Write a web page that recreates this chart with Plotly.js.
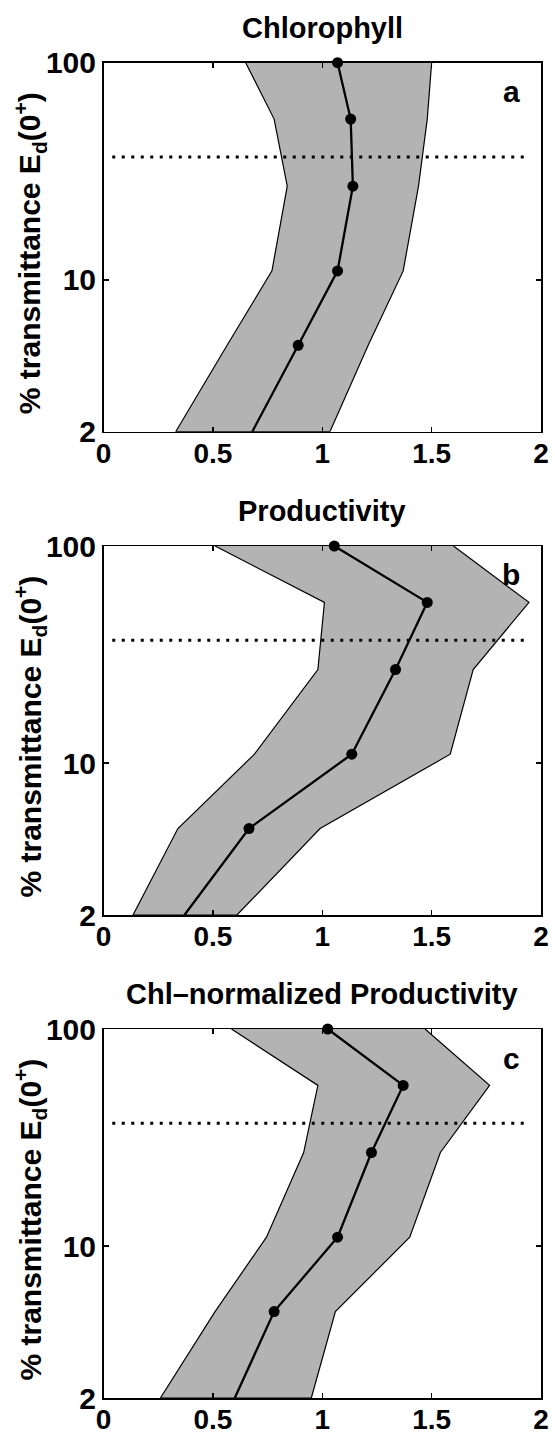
<!DOCTYPE html>
<html>
<head>
<meta charset="utf-8">
<script src="https://cdn.plot.ly/plotly-3.0.1.min.js"></script>
<style>html,body{margin:0;padding:0;background:#fff;}#chart{width:555px;height:1436px;}</style>
</head>
<body>
<div id="chart"></div>
<script>
// Light levels (% transmittance of surface irradiance)
const levels = [100, 55, 27, 11, 5, 2];
const refLevel = 36.8;          // 1/e light level (dotted line)
const refX = [0.04, 1.94];

// Panel a: Chlorophyll
const chlMean  = [1.07, 1.13, 1.14, 1.07, 0.89, 0.68];
const chlLow   = [0.65, 0.78, 0.84, 0.77, 0.565, 0.33];
const chlHigh  = [1.50, 1.48, 1.44, 1.37, 1.21, 1.035];

// Panel b: Productivity
const prodMean = [1.055, 1.48, 1.335, 1.135, 0.665, 0.37];
const prodLow  = [0.51, 1.01, 0.98, 0.69, 0.34, 0.135];
const prodHigh = [1.60, 1.945, 1.69, 1.585, 0.99, 0.61];

// Panel c: Chl-normalized Productivity
const normMean = [1.025, 1.37, 1.225, 1.07, 0.78, 0.60];
const normLow  = [0.585, 0.98, 0.915, 0.745, 0.51, 0.26];
const normHigh = [1.47, 1.765, 1.54, 1.40, 1.06, 0.95];

const titles = ['Chlorophyll', 'Productivity', 'Chl\u2013normalized Productivity'];
const letters = ['a', 'b', 'c'];
const yTitle = '% transmittance E<sub>d</sub>(0<sup>+</sup>)';
const xTicks = [0, 0.5, 1, 1.5, 2];
const xTickText = ['0', '0.5', '1', '1.5', '2'];
const yTicks = [2, 10, 100];
const yTickText = ['2', '10', '100'];

const panels = [
  {mean: chlMean, low: chlLow, high: chlHigh},
  {mean: prodMean, low: prodLow, high: prodHigh},
  {mean: normMean, low: normLow, high: normHigh}
];

const W = 555, H = 1436;
const plotLeft = 103.5, plotRight = 541;
const panelTops = [62.7, 546, 1029];
const panelH = 369;
const FONT = 'Liberation Sans, Arial, Helvetica, sans-serif';

const traces = [];
const layout = {
  width: W, height: H,
  margin: {l: 0, r: 0, t: 0, b: 0},
  paper_bgcolor: '#fff', plot_bgcolor: '#fff',
  showlegend: false,
  font: {family: FONT, color: '#000'},
  annotations: []
};

panels.forEach((p, i) => {
  const n = i + 1;
  const xa = n === 1 ? 'x' : 'x' + n;
  const ya = n === 1 ? 'y' : 'y' + n;
  traces.push({
    x: p.low.concat(p.high.slice().reverse()),
    y: levels.concat(levels.slice().reverse()),
    xaxis: xa, yaxis: ya,
    type: 'scatter', mode: 'lines', fill: 'toself',
    fillcolor: '#b3b3b3',
    line: {color: '#000', width: 1.2},
    hoverinfo: 'skip'
  });
  traces.push({
    x: refX, y: [refLevel, refLevel],
    xaxis: xa, yaxis: ya,
    type: 'scatter', mode: 'lines',
    line: {color: '#000', width: 3, dash: '3px,6.5px'},
    hoverinfo: 'skip'
  });
  traces.push({
    x: p.mean, y: levels,
    xaxis: xa, yaxis: ya,
    type: 'scatter', mode: 'lines+markers',
    line: {color: '#000', width: 2.3},
    marker: {color: '#000', size: 11},
    cliponaxis: false
  });

  const top = panelTops[i], bot = top + panelH;
  const axBase = {
    showline: true, linecolor: '#000', linewidth: 1.5, mirror: 'ticks',
    ticks: 'inside', ticklen: 5, tickwidth: 1.5, tickcolor: '#000',
    showgrid: false, zeroline: false, automargin: false,
    tickfont: {family: FONT, size: 30, weight: 'bold', color: '#000'}
  };
  layout['xaxis' + (n === 1 ? '' : n)] = Object.assign({}, axBase, {
    domain: [plotLeft / W, plotRight / W],
    anchor: ya,
    range: [0, 2],
    tickmode: 'array', tickvals: xTicks, ticktext: xTickText,
    tickfont: {family: FONT, size: 28, weight: 'bold', color: '#000'},
    ticklabelstandoff: -4
  });
  layout['yaxis' + (n === 1 ? '' : n)] = Object.assign({}, axBase, {
    domain: [1 - bot / H, 1 - top / H],
    anchor: xa,
    type: 'log',
    range: [Math.log10(2), 2],
    tickmode: 'array', tickvals: yTicks, ticktext: yTickText
  });

  layout.annotations.push({
    text: titles[i], xref: 'paper', yref: 'paper',
    x: ((plotLeft + plotRight) / 2) / W, y: 1 - (top - 35) / H,
    xanchor: 'center', yanchor: 'middle', showarrow: false,
    font: {family: FONT, size: 29, weight: 'bold', color: '#000'}
  });
  layout.annotations.push({
    text: letters[i], xref: 'paper', yref: 'paper',
    x: 511 / W, y: 1 - (top + 29) / H,
    xanchor: 'center', yanchor: 'middle', showarrow: false,
    font: {family: FONT, size: 30, weight: 'bold', color: '#000'}
  });
  layout.annotations.push({
    text: yTitle, xref: 'paper', yref: 'paper',
    x: 30 / W, y: 1 - (top + panelH / 2 + 6) / H,
    xanchor: 'center', yanchor: 'middle', showarrow: false, textangle: -90,
    font: {family: FONT, size: 30, weight: 'bold', color: '#000'}
  });
});

Plotly.newPlot('chart', traces, layout, {staticPlot: true, displayModeBar: false});
</script>
</body>
</html>
